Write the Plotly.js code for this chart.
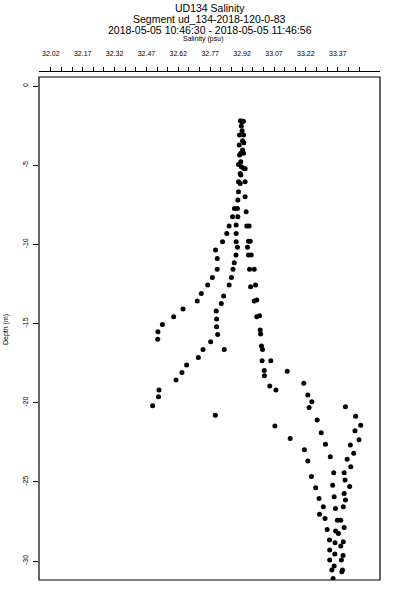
<!DOCTYPE html>
<html>
<head>
<meta charset="utf-8">
<script src="https://cdn.plot.ly/plotly-3.0.1.min.js"></script>
<style>html,body{margin:0;padding:0;background:#fff;}#chart{width:400px;height:600px;}</style>
</head>
<body>
<div id="chart"></div>
<script>
// Salinity (psu) and depth (m) samples
const salinity = [
32.912,32.919,32.926,32.916,32.920,32.908,32.927,32.922,32.928,32.906,
32.922,32.914,32.927,32.908,32.914,32.903,32.916,32.927,32.934,32.911,
32.914,32.903,32.911,32.934,32.903,32.934,32.900,32.884,32.898,32.939,
32.875,32.900,32.892,32.859,32.942,32.953,32.848,32.892,
32.828,32.892,32.950,32.958,32.898,32.945,32.795,32.891,32.950,32.963,
32.803,32.883,32.803,32.877,32.955,32.977,32.780,32.870,32.758,32.859,
32.983,32.960,32.728,32.833,32.989,32.709,32.977,32.822,32.642,32.798,
33.002,32.598,32.989,32.800,32.545,32.800,33.005,32.524,33.007,32.805,
32.523,32.772,33.011,32.736,32.836,33.016,32.714,33.014,33.055,32.659,
33.024,33.132,32.637,33.025,32.609,33.210,33.050,
32.529,33.079,33.229,32.527,33.248,32.499,33.406,33.235,32.794,33.454,
33.273,33.478,33.074,33.451,33.292,33.146,33.470,33.312,33.429,33.213,
33.445,33.335,33.414,33.229,33.431,33.351,33.400,33.246,33.404,33.346,
33.426,33.266,33.400,33.353,33.282,33.406,33.302,33.396,33.359,33.284,
33.310,33.368,33.384,33.400,33.320,33.360,33.373,33.331,33.396,33.357,
33.384,33.332,33.356,33.395,33.332,33.387,33.353,33.342,33.392,33.389,
33.348
];
const depth = [
-2.20,-2.25,-2.22,-2.53,-2.82,-3.10,-3.10,-3.45,-3.58,-3.73,
-4.04,-4.25,-4.25,-4.36,-4.78,-4.95,-5.10,-5.20,-5.22,-5.52,
-5.62,-6.04,-6.15,-6.04,-6.68,-6.99,-7.20,-7.73,-7.73,-7.94,
-8.26,-8.26,-8.78,-8.84,-8.84,-8.84,-9.31,-9.31,
-9.83,-9.83,-9.80,-9.80,-10.19,-10.19,-10.36,-10.68,-10.68,-10.68,
-10.89,-11.16,-11.58,-11.58,-11.58,-11.58,-12.09,-12.09,-12.57,-12.57,
-12.57,-12.68,-13.10,-13.27,-13.52,-13.58,-13.58,-13.73,-14.09,-14.21,
-14.51,-14.57,-14.57,-14.72,-15.06,-15.20,-15.41,-15.52,-15.67,-15.69,
-16.00,-16.15,-16.42,-16.64,-16.64,-16.64,-17.14,-17.35,-17.35,-17.62,
-17.96,-18.02,-18.09,-18.30,-18.57,-18.78,-18.95,
-19.20,-19.20,-19.52,-19.63,-19.94,-20.19,-20.26,-20.30,-20.80,-20.85,
-21.10,-21.42,-21.48,-21.77,-21.90,-22.26,-22.34,-22.62,-22.68,-22.97,
-23.20,-23.42,-23.58,-23.69,-24.05,-24.43,-24.43,-24.66,-24.89,-25.21,
-25.29,-25.37,-25.73,-25.94,-26.05,-26.15,-26.57,-26.57,-26.68,-27.04,
-27.31,-27.42,-27.42,-27.88,-28.01,-28.11,-28.26,-28.68,-28.79,-28.85,
-29.06,-29.31,-29.56,-29.65,-29.94,-29.94,-30.32,-30.57,-30.57,-30.68,
-31.10
];
const xTickLabels = ['32.02','32.17','32.32','32.47','32.62','32.77','32.92','33.07','33.22','33.37'];
const xTickMarks = [32.02,32.07,32.12,32.17,32.22,32.27,32.32,32.37,32.42,32.47,
  32.52,32.57,32.62,32.67,32.72,32.77,32.82,32.87,32.92,32.97,
  33.02,33.07,33.12,33.17,33.22,33.27,33.32,33.37,33.42,33.47];
const yTickVals = [0,-5,-10,-15,-20,-25,-30];
const yTickLabels = ['0','-5','-10','-15','-20','-25','-30'];
const titleLines = ['UD134 Salinity','Segment ud_134-2018-120-0-83','2018-05-05 10:46:30 - 2018-05-05 11:46:56'];

const FONT = 'Liberation Sans, Arial, Helvetica, sans-serif';
const xTickText = xTickMarks.map(v => {
  const s = v.toFixed(2);
  return xTickLabels.indexOf(s) >= 0 ? s : '';
});

const W = 400, H = 600;
const L = 39, R = 20, T = 71, B = 20;
const plotH = H - T - B;
const boxTop = 77;
const yDomTop = (H - B - boxTop) / plotH;
const py = p => (H - B - p) / plotH;

const trace = {
  type: 'scatter', mode: 'markers',
  x: salinity, y: depth,
  marker: {color: '#000', size: 5, line: {width: 0}},
  hoverinfo: 'skip', showlegend: false
};

const annotations = titleLines.map((t, i) => ({
  text: t, xref: 'paper', yref: 'paper', x: 0.5, y: py([7.5, 18.5, 30][i]),
  xanchor: 'center', yanchor: 'middle', showarrow: false,
  font: {family: FONT, size: 10.5, color: '#000'}
}));
annotations.push({
  text: 'Salinity (psu)', xref: 'paper', yref: 'paper', x: 0.48, y: py(38.5),
  xanchor: 'center', yanchor: 'middle', showarrow: false,
  font: {family: FONT, size: 7, color: '#000'}
});
annotations.push({
  text: 'Depth (m)', xref: 'paper', yref: 'paper', x: (6 - L) / (W - L - R), y: py(330),
  xanchor: 'center', yanchor: 'middle', showarrow: false, textangle: -90,
  font: {family: FONT, size: 7, color: '#000'}
});

const layout = {
  width: W, height: H,
  margin: {l: L, r: R, t: T, b: B, pad: 0},
  paper_bgcolor: '#fff', plot_bgcolor: '#fff',
  showlegend: false,
  xaxis: {
    range: [31.9646, 33.5686], side: 'top', anchor: 'free', position: 1,
    showgrid: false, zeroline: false, showline: true, linecolor: '#000', linewidth: 1,
    ticks: 'outside', ticklen: 4, tickwidth: 1, tickcolor: '#000',
    tickmode: 'array', tickvals: xTickMarks, ticktext: xTickText,
    ticklabelstandoff: 8,
    tickfont: {family: FONT, size: 7, color: '#000'}
  },
  yaxis: {
    range: [-31.2, 0.57], domain: [0, yDomTop],
    showgrid: false, zeroline: false, showline: false,
    ticks: 'outside', ticklen: 5, tickwidth: 1, tickcolor: '#000',
    tickmode: 'array', tickvals: yTickVals, ticktext: yTickLabels,
    tickangle: -90, ticklabelstandoff: 2,
    tickfont: {family: FONT, size: 7, color: '#000'}
  },
  shapes: [{
    type: 'rect', xref: 'paper', yref: 'paper', x0: 0, x1: 1, y0: 0, y1: yDomTop,
    line: {color: '#000', width: 1.2}, fillcolor: 'rgba(0,0,0,0)'
  }],
  annotations: annotations
};

Plotly.newPlot('chart', [trace], layout, {displayModeBar: false, staticPlot: true});
</script>
</body>
</html>
